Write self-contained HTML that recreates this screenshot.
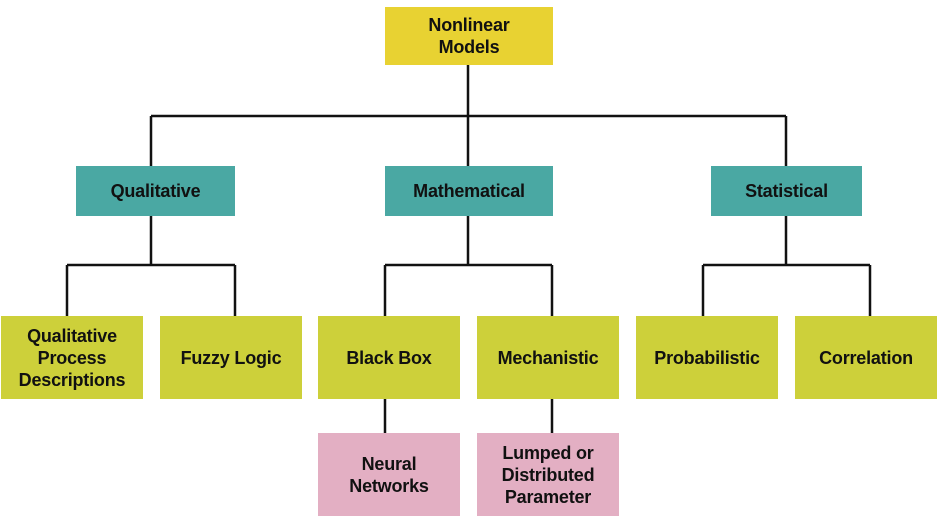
<!DOCTYPE html>
<html><head><style>
body{margin:0;width:940px;height:521px;background:#fff;position:relative;overflow:hidden;font-family:"Liberation Sans",sans-serif;}
.b{position:absolute;display:flex;align-items:center;justify-content:center;text-align:center;font-weight:bold;font-size:18px;line-height:22px;color:#111;letter-spacing:-0.2px}
.y{background:#e8d232}.t{background:#4aa8a3}.g{background:#cdd03a}.p{background:#e3afc3}
svg{position:absolute;left:0;top:0}
</style></head><body>
<svg width="940" height="521"><g stroke="#111" stroke-width="2.5" fill="none">
<path d="M468 65V166M151 116H786M151 116V166M786 116V166"/>
<path d="M151 216V265M67 265H235M67 265V316M235 265V316"/>
<path d="M468 216V265M385 265H552M385 265V316M552 265V316"/>
<path d="M786 216V265M703 265H870M703 265V316M870 265V316"/>
<path d="M385 399V433M552 399V433"/>
</g></svg>
<div class="b y" style="left:385px;top:7px;width:168px;height:58px">Nonlinear<br>Models</div>
<div class="b t" style="left:76px;top:166px;width:159px;height:50px">Qualitative</div>
<div class="b t" style="left:385px;top:166px;width:168px;height:50px">Mathematical</div>
<div class="b t" style="left:711px;top:166px;width:151px;height:50px">Statistical</div>
<div class="b g" style="left:1px;top:316px;width:142px;height:83px">Qualitative<br>Process<br>Descriptions</div>
<div class="b g" style="left:160px;top:316px;width:142px;height:83px">Fuzzy Logic</div>
<div class="b g" style="left:318px;top:316px;width:142px;height:83px">Black Box</div>
<div class="b g" style="left:477px;top:316px;width:142px;height:83px">Mechanistic</div>
<div class="b g" style="left:636px;top:316px;width:142px;height:83px">Probabilistic</div>
<div class="b g" style="left:795px;top:316px;width:142px;height:83px">Correlation</div>
<div class="b p" style="left:318px;top:433px;width:142px;height:83px">Neural<br>Networks</div>
<div class="b p" style="left:477px;top:433px;width:142px;height:83px">Lumped or<br>Distributed<br>Parameter</div>
</body></html>
